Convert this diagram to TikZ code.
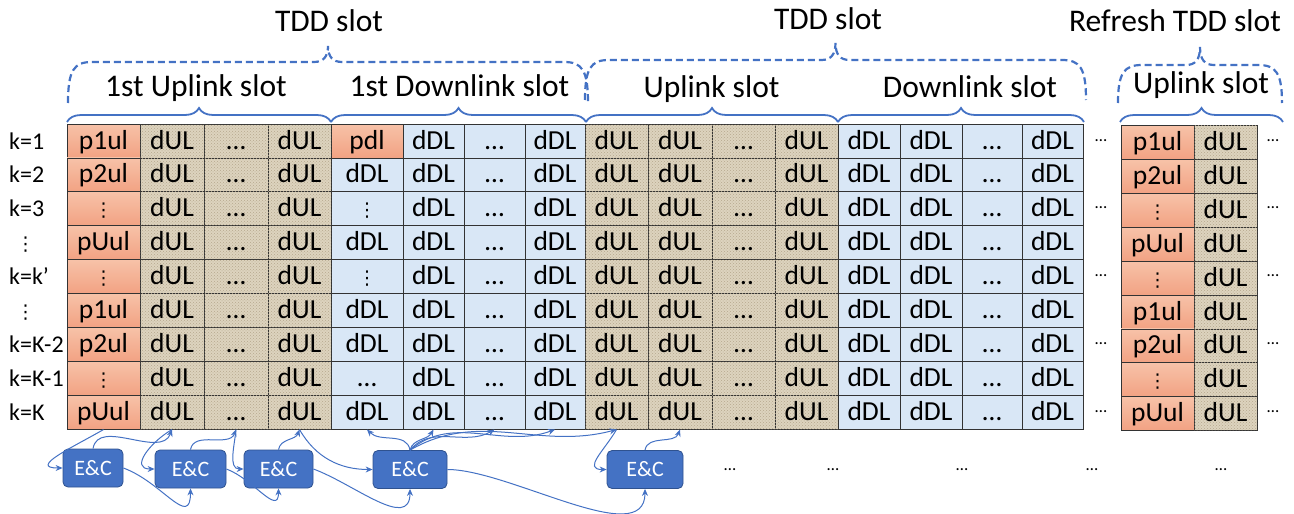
\documentclass[tikz,border=0pt]{standalone}
\usepackage{fontspec}
\setmainfont{Carlito}
\newfontfamily\dotfont{DejaVu Sans}
\usepackage{tikz}
\usetikzlibrary{arrows.meta}
\usetikzlibrary{decorations.pathreplacing}
\usetikzlibrary{patterns}

\definecolor{slotblue}{HTML}{4472C4}
\definecolor{ecborder}{HTML}{2F528F}
\definecolor{ulbeige}{HTML}{DDD3BE}
\definecolor{ulfleck}{HTML}{B5A88E}
\definecolor{dlblue}{HTML}{D9E7F6}
\definecolor{pilottop}{HTML}{F7C2A8}
\definecolor{pilotbot}{HTML}{F2A283}

\newcommand{\vd}{{\dotfont\fontsize{19}{20}\selectfont ⋮}}

\begin{document}
\begin{tikzpicture}[
          x=1pt, y=-1pt,
          cell/.style={draw=black!80, line width=0.8pt, minimum height=33.9pt, inner sep=0pt,
                       text height=18pt, text depth=2pt, font=\fontsize{27.5}{30}\selectfont},
          ulcell/.style={cell, fill=ulbeige, postaction={pattern=crosshatch dots, pattern color=ulfleck}},
          dlcell/.style={cell, fill=dlblue},
          pcell/.style={cell, top color=pilottop, bottom color=pilotbot},
          rowlabel/.style={anchor=west, inner sep=0pt, text height=18pt, text depth=2pt,
                           font=\fontsize{24}{26}\selectfont},
          slotlabel/.style={anchor=base, inner sep=0pt, font=\fontsize{31.5}{36}\selectfont},
          sidedots/.style={anchor=base, inner sep=0pt, font=\fontsize{17}{20}\selectfont},
          ecbox/.style={draw=ecborder, line width=0.8pt, fill=slotblue, rounded corners=5pt,
                        minimum height=38pt, inner sep=0pt, text=white,
                        font=\fontsize{22}{24}\selectfont},
          slotbrace/.style={slotblue, line width=1.8pt, decorate,
                            decoration={brace, amplitude=14pt}},
          tddbrace/.style={slotblue, line width=2.2pt, dash pattern=on 7pt off 4pt},
          flow/.style={slotblue, line width=1pt, -{Stealth[length=7pt,width=6pt]}}
      ]
        \useasboundingbox (0,0) rectangle (1294,514);

        % k rows: pilot columns, the first downlink column and the refresh slot
        \foreach \r/\pu/\pd/\pds in {0/p1ul/pdl/pcell, 1/p2ul/dDL/dlcell, 2/\vd/\vd/dlcell,
                                     3/pUul/dDL/dlcell, 4/\vd/\vd/dlcell, 5/p1ul/dDL/dlcell,
                                     6/p2ul/dDL/dlcell, 7/\vd/…/dlcell, 8/pUul/dDL/dlcell}{
          \pgfmathsetmacro\yc{141+33.9*\r}
          \node[pcell, minimum width=73pt] (c0-\r) at (103.5,\yc) {\pu};
          \node[\pds, minimum width=72pt] (c4-\r) at (367,\yc) {\pd};
          \node[pcell, minimum width=73pt] (r0-\r) at (1157.5,\yc+1.5) {\pu};
          \node[ulcell, minimum width=63pt] (r1-\r) at (1225.5,\yc+1.5) {dUL};
          % data columns
          \foreach \c/\xm/\w/\sty/\txt in {1/172/64/ulcell/dUL, 2/236/64/ulcell/…, 3/299.5/63/ulcell/dUL,
                                           5/433.5/61/dlcell/dDL, 6/494.5/61/dlcell/…, 7/555/60/dlcell/dDL,
                                           8/616.5/63/ulcell/dUL, 9/680/64/ulcell/dUL, 10/743.5/63/ulcell/…,
                                           11/806.5/63/ulcell/dUL, 12/869/62/dlcell/dDL, 13/931/62/dlcell/dDL,
                                           14/992/60/dlcell/…, 15/1052.5/61/dlcell/dDL}
            \node[\sty, minimum width=\w pt] (c\c-\r) at (\xm,\yc) {\txt};
        }

        % user index on the left
        \foreach \r/\xl/\lab in {0/9/k=1, 1/9/k=2, 2/9/k=3, 3/16/\vd, 4/9/k=k’,
                                 5/16/\vd, 6/9/k=K-2, 7/9/k=K-1, 8/9/k=K}
          \node[rowlabel] (k\r) at (\xl,141+33.9*\r) {\lab};

        % dots between the slots
        \foreach \r in {0,2,4,6,8}{
          \node[sidedots] (m\r) at (1101,141+33.9*\r) {…};
          \node[sidedots] (n\r) at (1273,141+33.9*\r) {…};
        }
        \foreach \i/\x in {1/730, 2/833, 3/962, 4/1092, 5/1221}
          \node[sidedots] (b\i) at (\x,470) {…};

        % slot braces and labels
        \draw[slotbrace] (67,122) -- (331,122);
        \draw[slotbrace] (331,122) -- (586,122);
        \draw[slotbrace] (586,122) -- (838,122);
        \draw[slotbrace] (838,122) -- (1084,122);
        \draw[slotbrace] (1120,122) -- (1283,122);
        \node[slotlabel] (ul1) at (196,96.5) {1st Uplink slot};
        \node[slotlabel] (dl1) at (459.5,96.5) {1st Downlink slot};
        \node[slotlabel] (ul2) at (711.5,97) {Uplink slot};
        \node[slotlabel] (dl2) at (970,97) {Downlink slot};
        \node[slotlabel] (ulr) at (1201,93) {Uplink slot};

        % TDD braces (dashed) and labels
        \foreach \xa/\xb/\yb/\yh/\yt in {68/588/103/62/46, 585/1086/100/60/43, 1118/1282/103/65/47}{
          \pgfmathsetmacro\xm{(\xa+\xb)/2}
          \draw[tddbrace] (\xa,\yb) .. controls (\xa,\yh+8) and (\xa+6,\yh) .. (\xa+24,\yh)
            -- (\xm-14,\yh) .. controls (\xm-5,\yh) and (\xm,\yh-5) .. (\xm,\yt)
            .. controls (\xm,\yh-5) and (\xm+5,\yh) .. (\xm+14,\yh)
            -- (\xb-24,\yh) .. controls (\xb-6,\yh) and (\xb,\yh+8) .. (\xb,\yb);
        }
        \node[slotlabel] (tdd1) at (329,31.5) {TDD slot};
        \node[slotlabel] (tdd2) at (828,30) {TDD slot};
        \node[slotlabel] (tddr) at (1175,31.5) {Refresh TDD slot};

        % estimation and compensation blocks
        \node[ecbox, minimum width=60pt] (ec1) at (93,468) {E\&C};
        \node[ecbox, minimum width=71pt] (ec2) at (190.5,469) {E\&C};
        \node[ecbox, minimum width=69pt] (ec3) at (278.5,469) {E\&C};
        \node[ecbox, minimum width=74pt] (ec4) at (410,469.5) {E\&C};
        \node[ecbox, minimum width=76pt] (ec5) at (645,469.5) {E\&C};

        % flow between blocks and symbols
        \draw[flow] (c0-8.south) to[out=-150,in=180,looseness=1.6] (ec1.west);
        \draw[flow] (ec1.north) to[out=80,in=-110] (c1-8.south);
        \draw[flow] (c1-8.south) to[out=-150,in=180,looseness=1.5] (ec2.west);
        \draw[flow] (ec1.east) to[out=-20,in=-90,looseness=1.5] (ec2.south);
        \draw[flow] (ec2.north) to[out=80,in=-110] (c2-8.south);
        \draw[flow] (c2-8.south) to[out=-95,in=180] (ec3.west);
        \draw[flow] (ec2.east) to[out=-20,in=-90,looseness=1.3] (ec3.south);
        \draw[flow] (ec3.north) to[out=80,in=-110] (c3-8.south);
        \draw[flow] (c3-8.south) to[out=-60,in=180] (ec4.west);
        \draw[flow] (ec3.east) to[out=-20,in=-90,looseness=1.1] (ec4.south);
        \draw[flow] (ec4.north) to[out=100,in=-45] (c4-8.south);
        \draw[flow] (ec4.north) to[out=75,in=-120] (c5-8.south);
        \draw[flow] (ec4.north) to[out=50,in=-150] (c6-8.south);
        \draw[flow] (ec4.north) to[out=40,in=-160] (c7-8.south);
        \draw[flow] (ec4.north) to[out=30,in=-165] (c8-8.south);
        \draw[flow] (c8-8.south) to[out=-120,in=180,looseness=1.5] (ec5.west);
        \draw[flow] (ec4.east) to[out=0,in=-90,looseness=0.8] (ec5.south);
        \draw[flow] (ec5.north) to[out=80,in=-110] (c9-8.south);
      \end{tikzpicture}
\end{document}
